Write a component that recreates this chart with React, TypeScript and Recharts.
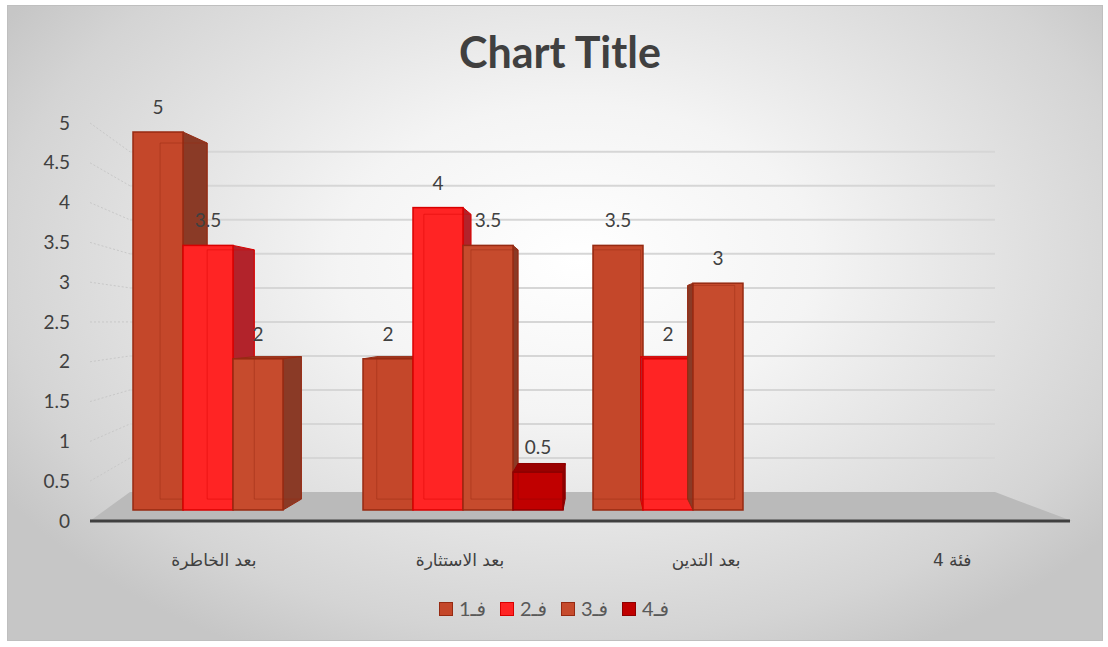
import React from "react";
import { Bar, BarChart, CartesianGrid, LabelList, Legend, XAxis, YAxis } from "recharts";

const categories = ["بعد الخاطرة", "بعد الاستثارة", "بعد التدين", "فئة 4"];
const f1 = [5, 2, 3.5, null];
const f2 = [3.5, 4, 2, null];
const f3 = [2, 3.5, 3, null];
const f4 = [null, 0.5, null, null];
const yTicks = [0, 0.5, 1, 1.5, 2, 2.5, 3, 3.5, 4, 4.5, 5];

const series = [
  { key: "f1", name: "فـ1", front: "#C4472A", stroke: "#962A12", side: "#8A3A26", top: "#A23A22" },
  { key: "f2", name: "فـ2", front: "#FF2424", stroke: "#D80000", side: "#B2232B", top: "#D01818" },
  { key: "f3", name: "فـ3", front: "#C64B2D", stroke: "#962A12", side: "#8A3A26", top: "#A23A22" },
  { key: "f4", name: "فـ4", front: "#C00000", stroke: "#8E0000", side: "#8A0000", top: "#9A0000" },
];

const data = categories.map((name, i) => ({ name, f1: f1[i], f2: f2[i], f3: f3[i], f4: f4[i] }));

const FONT = "Lato, 'DejaVu Sans', sans-serif";
const TEXT = "#404040";

// fake perspective: points pulled toward a vanishing point
const VX = 600;
const VY = 322;
const K = 0.058;
const back = (px: number, py: number): [number, number] => [px + (VX - px) * K, py + (VY - py) * K];
const pts = (a: [number, number][]) => a.map((p) => p.join(",")).join(" ");

function Box3D(props: any) {
  const { x, y, width, height, value, c } = props;
  if (value == null || !height) return null;
  const L = x, R = x + width, T = y, B = y + height;
  const lt = back(L, T), rt = back(R, T), lb = back(L, B), rb = back(R, B);
  return (
    <g>
      {VY < T && <polygon points={pts([[L, T], [R, T], rt, lt])} fill={c.top} stroke={c.stroke} strokeWidth={1} />}
      {VX > R && <polygon points={pts([[R, T], rt, rb, [R, B]])} fill={c.side} stroke={c.stroke} strokeWidth={1} />}
      {VX < L && <polygon points={pts([[L, T], lt, lb, [L, B]])} fill={c.side} stroke={c.stroke} strokeWidth={1} />}
      <rect x={L} y={T} width={width} height={height} fill={c.front} stroke={c.stroke} strokeWidth={1.5} />
      <polygon points={pts([lt, rt, rb, lb])} fill="none" stroke={c.stroke} strokeOpacity={0.45} strokeWidth={1} />
    </g>
  );
}

function YTick({ y, payload }: any) {
  const ly = 521 + (y - 510) * 1.053;
  return (
    <text x={70} y={ly} dy="0.35em" textAnchor="end" fontSize={19} fill={TEXT} fontFamily={FONT}>
      {payload.value}
    </text>
  );
}

function XTick({ x, y, payload }: any) {
  const lx = 460 + (x - 463) * 1.07;
  return (
    <text x={lx} y={y + 42} dy="0.35em" textAnchor="middle" fontSize={17} fill={TEXT} fontFamily="'DejaVu Sans', sans-serif">
      {payload.value}
    </text>
  );
}

function gridLine(p: any) {
  const bottom = p.y + p.height;
  const wy = p.y1 + (330 - p.y1) * 0.1;
  const ly = 521 + (p.y1 - bottom) * 1.053;
  if (Math.abs(p.y1 - bottom) < 0.5) {
    return (
      <g key={`g-${p.index}`}>
        <polygon points={`90,${ly} 130,${wy} 995,${wy} 1072,${ly}`} fill="#BABABA" />
        <line x1={90} y1={ly} x2={1070} y2={ly} stroke="#404040" strokeWidth={3} />
      </g>
    );
  }
  return (
    <g key={`g-${p.index}`}>
      <line x1={90} y1={ly} x2={130} y2={wy} stroke="#C8C8C8" strokeDasharray="2 2" />
      <line x1={130} y1={wy} x2={995} y2={wy} stroke="#D6D6D6" strokeWidth={2} />
    </g>
  );
}

function renderLegend() {
  return (
    <div style={{ display: "flex", justifyContent: "center", gap: 14, fontFamily: FONT, fontSize: 20, color: "#595959" }}>
      {series.map((s) => (
        <div key={s.key} style={{ display: "flex", alignItems: "center", gap: 6 }}>
          <span style={{ width: 12, height: 12, background: s.front, border: `1.5px solid ${s.stroke}`, display: "inline-block" }} />
          <span>{s.name}</span>
        </div>
      ))}
    </div>
  );
}

function DataLabel(props: any) {
  const { x, y, width, value } = props;
  if (value == null) return null;
  return (
    <text x={x + width / 2} y={y - 18} textAnchor="middle" fontSize={19} fill={TEXT} fontFamily={FONT}>
      {value}
    </text>
  );
}

export default function App() {
  return (
    <div style={{ position: "absolute", left: 0, top: 0, width: 1108, height: 647, background: "#fff" }}>
      <div
        style={{
          position: "absolute",
          left: 7,
          top: 5,
          width: 1094,
          height: 634,
          border: "1px solid #BFBFBF",
          background: "radial-gradient(ellipse 62% 70% at 52% 40%, #ffffff 0%, #f4f4f4 35%, #d4d4d4 85%, #c6c6c6 100%)",
        }}
      />
      <div
        style={{
          position: "absolute",
          left: 0,
          top: 26,
          width: 1120,
          textAlign: "center",
          fontFamily: FONT,
          fontWeight: 700,
          fontSize: 43,
          color: TEXT,
        }}
      >
        Chart Title
      </div>
      <div style={{ position: "absolute", left: 0, top: 0 }}>
        <BarChart
          width={1108}
          height={647}
          data={data}
          margin={{ top: 132, right: 70, bottom: 107, left: 58 }}
          barCategoryGap={15}
          barGap={0}
        >
          <CartesianGrid vertical={false} horizontal={gridLine as any} />
          <XAxis dataKey="name" height={30} axisLine={false} tickLine={false} tick={<XTick />} interval={0} />
          <YAxis width={60} domain={[0, 5]} ticks={yTicks} axisLine={false} tickLine={false} tick={<YTick />} />
          <Legend verticalAlign="middle" wrapperStyle={{ top: 596, left: 0, width: 1108 }} content={renderLegend} />
          {series.map((s) => (
            <Bar
              key={s.key}
              dataKey={s.key}
              name={s.name}
              fill={s.front}
              isAnimationActive={false}
              shape={(p: any) => <Box3D {...p} c={s} />}
            >
              <LabelList dataKey={s.key} content={<DataLabel />} />
            </Bar>
          ))}
        </BarChart>
      </div>
    </div>
  );
}
